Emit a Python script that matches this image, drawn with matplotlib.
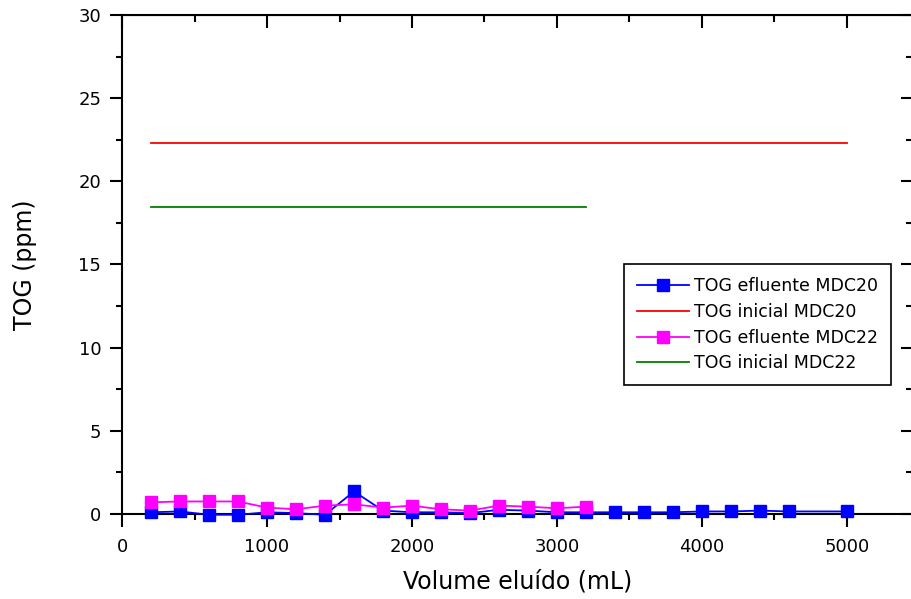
import matplotlib
matplotlib.use('Agg')
import matplotlib.pyplot as plt
from matplotlib.ticker import MultipleLocator

plt.rcParams['font.family'] = ['DejaVu Sans']

# effluent TOG, MDC20
vol_mdc20 = [200, 400, 600, 800, 1000, 1200, 1400, 1600, 1800, 2000, 2200, 2400,
             2600, 2800, 3000, 3200, 3400, 3600, 3800, 4000, 4200, 4400, 4600, 5000]
tog_mdc20 = [0.1, 0.15, -0.05, -0.05, 0.1, 0.05, -0.05, 1.35, 0.2, 0.1, 0.1, 0.05,
             0.25, 0.2, 0.1, 0.1, 0.1, 0.1, 0.1, 0.15, 0.15, 0.2, 0.15, 0.15]

# effluent TOG, MDC22
vol_mdc22 = [200, 400, 600, 800, 1000, 1200, 1400, 1600, 1800, 2000, 2200, 2400,
             2600, 2800, 3000, 3200]
tog_mdc22 = [0.7, 0.75, 0.75, 0.75, 0.38, 0.28, 0.5, 0.58, 0.38, 0.5, 0.28, 0.2,
             0.5, 0.44, 0.34, 0.44]

# initial TOG
init_mdc20_x = [200, 5000]
init_mdc20 = [22.3, 22.3]
init_mdc22_x = [200, 3200]
init_mdc22 = [18.45, 18.45]

fig = plt.figure(figsize=(9.11, 5.99), dpi=100)
ax = fig.add_axes([0.134, 0.142, 0.868, 0.833])

ax.plot(vol_mdc20, tog_mdc20, color='blue', marker='s', markersize=8.5, lw=1.3,
        clip_on=False, label='TOG efluente MDC20', zorder=3)
ax.plot(init_mdc20_x, init_mdc20, color='red', lw=1.3, label='TOG inicial MDC20')
ax.plot(vol_mdc22, tog_mdc22, color='magenta', marker='s', markersize=8.5, lw=1.3,
        clip_on=False, label='TOG efluente MDC22', zorder=4)
ax.plot(init_mdc22_x, init_mdc22, color='green', lw=1.3, label='TOG inicial MDC22')

ax.set_xlim(0, 5455)
ax.set_ylim(0, 30)
ax.xaxis.set_major_locator(MultipleLocator(1000))
ax.xaxis.set_minor_locator(MultipleLocator(500))
ax.yaxis.set_major_locator(MultipleLocator(5))
ax.yaxis.set_minor_locator(MultipleLocator(2.5))

for s in ax.spines.values():
    s.set_linewidth(1.5)

ax.tick_params(which='both', direction='out', top=False, right=False, width=1.5,
               labelsize=13)
ax.tick_params(which='major', length=9)
ax.tick_params(which='minor', length=4)
ax.tick_params(axis='x', which='major', pad=8)
ax.tick_params(axis='y', which='major', pad=6)

# inward ticks on top and right
sec_x = ax.secondary_xaxis('top')
sec_x.xaxis.set_major_locator(MultipleLocator(1000))
sec_x.xaxis.set_minor_locator(MultipleLocator(500))
sec_x.tick_params(which='both', direction='in', width=1.5, labeltop=False)
sec_x.tick_params(which='major', length=9)
sec_x.tick_params(which='minor', length=5)
sec_y = ax.secondary_yaxis('right')
sec_y.yaxis.set_major_locator(MultipleLocator(5))
sec_y.yaxis.set_minor_locator(MultipleLocator(2.5))
sec_y.tick_params(which='both', direction='in', width=1.5, labelright=False)
sec_y.tick_params(which='major', length=9)
sec_y.tick_params(which='minor', length=5)

ax.set_xlabel('Volume eluído (mL)', fontsize=17, labelpad=10)
ax.set_ylabel('TOG (ppm)', fontsize=17, labelpad=30)

leg = ax.legend(loc='upper left', bbox_to_anchor=(0.635, 0.501), borderaxespad=0,
                fontsize=12.5, frameon=True, fancybox=False, edgecolor='black',
                handlelength=3.0, handletextpad=0.25, borderpad=0.75,
                labelspacing=0.45, framealpha=1)
leg.get_frame().set_linewidth(1.2)

plt.savefig('out.png', dpi=100)
